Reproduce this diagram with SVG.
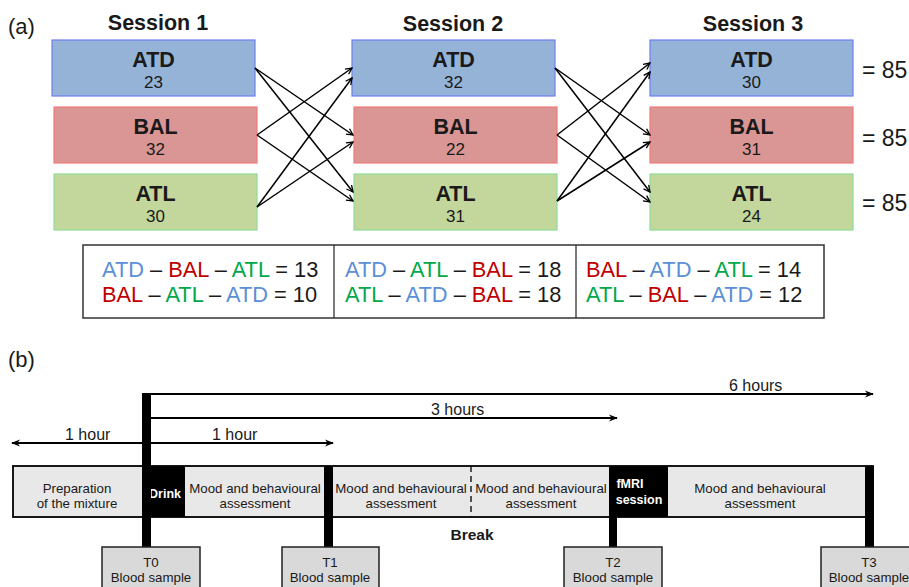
<svg xmlns="http://www.w3.org/2000/svg" width="909" height="587" viewBox="0 0 909 587">
<style>
text{font-family:"Liberation Sans",Arial,sans-serif;fill:#1a1a1a}
.lbl{font-size:22px}
.title{font-size:21.5px;font-weight:bold;text-anchor:middle}
.big{font-size:21.5px;font-weight:bold;text-anchor:middle}
.num{font-size:17px;text-anchor:middle}
.eq{font-size:23px}
.atd{fill:#95b3d7;stroke:#6f7ff0;stroke-width:1.2}
.bal{fill:#da9694;stroke:#f07b7b;stroke-width:1.2}
.atl{fill:#c3d69b;stroke:#8fdc94;stroke-width:1.2}
.tb{font-size:21.8px}
.cb{fill:#5b8fd8}
.cr{fill:#c00000}
.cg{fill:#00a84a}
.ar{stroke:#000;stroke-width:1.5;fill:none;marker-end:url(#ah)}
.tl{stroke:#000;stroke-width:1.8;fill:none}
.sm{font-size:13.3px;text-anchor:middle}
.hr{font-size:16px}
.wb{font-size:12.5px;font-weight:bold;fill:#fff;text-anchor:middle}
.seg{fill:#e8e8e8;stroke:#000;stroke-width:1.8}
.blk{fill:#000}
.bs{fill:#d9d9d9;stroke:#222;stroke-width:1.5}
</style>
<defs>
<marker id="ah" viewBox="0 0 10 10" refX="9" refY="5" markerWidth="8" markerHeight="8" markerUnits="userSpaceOnUse" orient="auto">
<path d="M1,1 L9,5 L1,9" fill="none" stroke="#000" stroke-width="1.6"/>
</marker>
<marker id="th" viewBox="0 0 10 10" refX="9" refY="5" markerWidth="9" markerHeight="9" markerUnits="userSpaceOnUse" orient="auto-start-reverse">
<path d="M0,1 L10,5 L0,9 L3,5 Z" fill="#000"/>
</marker>
</defs>

<!-- (a) -->
<text class="lbl" x="8" y="34">(a)</text>
<text class="title" x="158" y="30">Session 1</text>
<text class="title" x="453" y="31">Session 2</text>
<text class="title" x="753" y="31">Session 3</text>

<g id="s1-atd"><rect class="atd" x="52" y="40" width="203" height="56"/><text class="big" x="153.5" y="67">ATD</text><text class="num" x="153.5" y="88">23</text></g>
<g id="s1-bal"><rect class="bal" x="54" y="107" width="203" height="56"/><text class="big" x="155.5" y="134">BAL</text><text class="num" x="155.5" y="155">32</text></g>
<g id="s1-atl"><rect class="atl" x="54" y="174" width="203" height="56"/><text class="big" x="155.5" y="201">ATL</text><text class="num" x="155.5" y="222">30</text></g>

<g id="s2-atd"><rect class="atd" x="352" y="40" width="203" height="56"/><text class="big" x="453.5" y="67">ATD</text><text class="num" x="453.5" y="88">32</text></g>
<g id="s2-bal"><rect class="bal" x="354" y="107" width="203" height="56"/><text class="big" x="455.5" y="134">BAL</text><text class="num" x="455.5" y="155">22</text></g>
<g id="s2-atl"><rect class="atl" x="354" y="174" width="203" height="56"/><text class="big" x="455.5" y="201">ATL</text><text class="num" x="455.5" y="222">31</text></g>

<g id="s3-atd"><rect class="atd" x="650" y="40" width="203" height="56"/><text class="big" x="751.5" y="67">ATD</text><text class="num" x="751.5" y="88">30</text></g>
<g id="s3-bal"><rect class="bal" x="650" y="107" width="203" height="56"/><text class="big" x="751.5" y="134">BAL</text><text class="num" x="751.5" y="155">31</text></g>
<g id="s3-atl"><rect class="atl" x="650" y="174" width="203" height="56"/><text class="big" x="751.5" y="201">ATL</text><text class="num" x="751.5" y="222">24</text></g>

<g id="totals">
<text class="eq" x="862" y="78">= 85</text>
<text class="eq" x="862" y="146">= 85</text>
<text class="eq" x="862" y="211">= 85</text>
</g>

<g id="connectors">
<line class="ar" x1="255" y1="68" x2="353" y2="135"/>
<line class="ar" x1="255" y1="68" x2="353" y2="192"/>
<line class="ar" x1="257" y1="135" x2="352" y2="68"/>
<line class="ar" x1="257" y1="135" x2="353" y2="201"/>
<line class="ar" x1="257" y1="207" x2="352" y2="78"/>
<line class="ar" x1="257" y1="207" x2="353" y2="142"/>

<line class="ar" x1="555" y1="68" x2="650" y2="135"/>
<line class="ar" x1="555" y1="68" x2="650" y2="192"/>
<line class="ar" x1="557" y1="135" x2="650" y2="63"/>
<line class="ar" x1="557" y1="135" x2="650" y2="202"/>
<line class="ar" x1="557" y1="201" x2="650" y2="72"/>
<line class="ar" x1="557" y1="201" x2="650" y2="142"/>
</g>

<g id="table">
<rect x="83" y="245" width="741" height="73" fill="#fff" stroke="#333" stroke-width="1.5"/>
<line x1="334" y1="245" x2="334" y2="318" stroke="#333" stroke-width="1.3"/>
<line x1="576" y1="245" x2="576" y2="318" stroke="#333" stroke-width="1.3"/>
<text class="tb" x="102" y="277"><tspan class="cb">ATD</tspan> – <tspan class="cr">BAL</tspan> – <tspan class="cg">ATL</tspan> = 13</text>
<text class="tb" x="102" y="302"><tspan class="cr">BAL</tspan> – <tspan class="cg">ATL</tspan> – <tspan class="cb">ATD</tspan> = 10</text>
<text class="tb" x="345" y="277"><tspan class="cb">ATD</tspan> – <tspan class="cg">ATL</tspan> – <tspan class="cr">BAL</tspan> = 18</text>
<text class="tb" x="345" y="302"><tspan class="cg">ATL</tspan> – <tspan class="cb">ATD</tspan> – <tspan class="cr">BAL</tspan> = 18</text>
<text class="tb" x="586" y="277"><tspan class="cr">BAL</tspan> – <tspan class="cb">ATD</tspan> – <tspan class="cg">ATL</tspan> = 14</text>
<text class="tb" x="586" y="302"><tspan class="cg">ATL</tspan> – <tspan class="cr">BAL</tspan> – <tspan class="cb">ATD</tspan> = 12</text>
</g>

<!-- (b) -->
<text class="lbl" x="8" y="367">(b)</text>

<g id="durations">
<line class="tl" x1="151" y1="394" x2="873" y2="394" marker-end="url(#th)"/>
<text class="hr" x="729" y="391">6 hours</text>
<line class="tl" x1="151" y1="418" x2="617" y2="418" marker-end="url(#th)"/>
<text class="hr" x="431" y="415">3 hours</text>
<line class="tl" x1="143" y1="443" x2="12" y2="443" marker-end="url(#th)"/>
<text class="hr" x="65" y="440">1 hour</text>
<line class="tl" x1="151" y1="443" x2="333" y2="443" marker-end="url(#th)"/>
<text class="hr" x="212" y="440">1 hour</text>
</g>

<g id="timeline">
<rect class="seg" x="13" y="466" width="860" height="51"/>
<line x1="471" y1="466" x2="471" y2="517" stroke="#000" stroke-width="1.3" stroke-dasharray="6,4"/>
</g>

<g id="prep"><text class="sm" x="77" y="493">Preparation</text><text class="sm" x="77" y="508">of the mixture</text></g>
<g id="drink"><rect class="blk" x="142" y="466" width="43" height="51"/><text class="wb" x="165" y="498">Drink</text></g>
<g id="mood1"><text class="sm" x="255" y="493">Mood and behavioural</text><text class="sm" x="255" y="508">assessment</text></g>
<g id="mood2"><text class="sm" x="401" y="493">Mood and behavioural</text><text class="sm" x="401" y="508">assessment</text></g>
<g id="mood3"><text class="sm" x="541" y="493">Mood and behavioural</text><text class="sm" x="541" y="508">assessment</text></g>
<g id="fmri"><rect class="blk" x="609" y="466" width="59" height="51"/><text class="wb" x="630" y="488">fMRI</text><text class="wb" x="639" y="504">session</text></g>
<g id="mood4"><text class="sm" x="760" y="493">Mood and behavioural</text><text class="sm" x="760" y="508">assessment</text></g>
<text x="472" y="540" font-size="15.5" font-weight="bold" text-anchor="middle">Break</text>

<g id="t0"><rect class="blk" x="142" y="393" width="9" height="154"/><rect class="bs" x="102" y="547" width="98" height="50"/><text class="sm" x="151" y="567">T0</text><text class="sm" x="151" y="582">Blood sample</text></g>
<g id="t1"><rect class="blk" x="324" y="466" width="9" height="81"/><rect class="bs" x="282" y="547" width="97" height="50"/><text class="sm" x="330" y="567">T1</text><text class="sm" x="330" y="582">Blood sample</text></g>
<g id="t2"><rect class="blk" x="609" y="517" width="8" height="30"/><rect class="bs" x="564" y="547" width="98" height="50"/><text class="sm" x="613" y="567">T2</text><text class="sm" x="613" y="582">Blood sample</text></g>
<g id="t3"><rect class="blk" x="865" y="466" width="9" height="81"/><rect class="bs" x="821" y="547" width="98" height="50"/><text class="sm" x="869" y="567">T3</text><text class="sm" x="869" y="582">Blood sample</text></g>
</svg>
